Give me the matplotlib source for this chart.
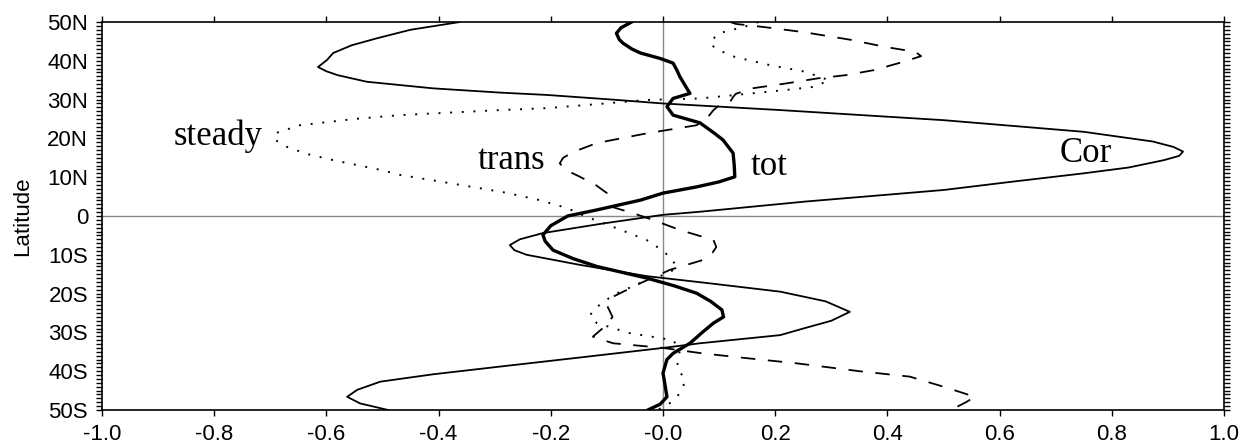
import numpy as np
import matplotlib
matplotlib.use("Agg")
from matplotlib import pyplot as plt
from matplotlib.ticker import MultipleLocator

# latitude (deg, + = N) and values for each curve
cor_lat = [50, 48, 45.8, 44, 42, 40.2, 38.4, 37.3, 36.3, 34.6, 32.9, 31.8, 31.2, 30, 29, 27.3,
           24.7, 21.7, 19.2, 17.8, 16.6, 15.5, 14.4, 12.5, 11, 8.8, 6.7, 3.7, 1.1, 0.3, -2,
           -4.4, -6, -7.5, -8.8, -10, -12.6, -15.5, -17.3, -19.5, -22, -24.7, -27, -29,
           -30.7, -32.8, -34, -36.5, -38.8, -40.8, -42.7, -44.8, -46.6, -48.3, -50]
cor_val = [-0.362, -0.45, -0.51, -0.555, -0.588, -0.599, -0.615, -0.60, -0.58, -0.528, -0.41,
           -0.29, -0.207, -0.09, 0.0, 0.209, 0.50, 0.75, 0.873, 0.91, 0.927, 0.92, 0.893, 0.83,
           0.75, 0.62, 0.50, 0.252, 0.066, 0.0, -0.11, -0.214, -0.255, -0.273, -0.265, -0.243,
           -0.148, -0.029, 0.08, 0.209, 0.29, 0.333, 0.30, 0.25, 0.209, 0.066, 0.0, -0.15,
           -0.29, -0.41, -0.504, -0.545, -0.563, -0.54, -0.49]

tot_lat = [50, 48.5, 47.1, 45.5, 44.5, 43, 42, 40.6, 39.4, 37.5, 35.9, 33.5, 31.6, 30.3, 28.2,
           26, 24, 21.5, 19.6, 16.2, 13, 10.1, 8.8, 7.5, 5.9, 4.1, 1.5, 0, -2.5, -4.9, -6.5,
           -8.8, -11, -13, -16, -18, -19.9, -22, -24.2, -26, -27.6, -30, -32.8, -35.4, -37,
           -40.5, -43, -46.6, -48.5, -50]
tot_val = [-0.056, -0.075, -0.083, -0.078, -0.071, -0.055, -0.04, -0.005, 0.018, 0.025, 0.030,
           0.04, 0.048, 0.018, 0.007, 0.018, 0.066, 0.09, 0.107, 0.125, 0.127, 0.128, 0.10, 0.06,
           0.0, -0.04, -0.12, -0.17, -0.2, -0.214, -0.21, -0.196, -0.16, -0.118, -0.029, 0.02,
           0.06, 0.085, 0.105, 0.108, 0.09, 0.07, 0.048, 0.018, 0.007, 0.0, 0.003, 0.007,
           -0.005, -0.027]

steady_lat = [50, 48.8, 47, 44.5, 43, 41, 38.9, 37.2, 35, 33.3, 32.5, 31.2, 30.3, 29.9, 28.8,
              27.8, 27.3, 26, 25, 23.4, 21.3, 19.5, 17.8, 16, 14.4, 11.9, 10.6, 7.5, 6, 4.1, 2,
              0, -2.8, -6.2, -8.5, -10.5, -13.1, -14.8, -16.5, -20.4, -24.2, -25.8, -27.6,
              -30.2, -32, -34.5, -36.5, -38.8, -42.3, -44.5, -46.6, -48.5, -50]
steady_val = [0.17, 0.146, 0.097, 0.084, 0.095, 0.128, 0.19, 0.253, 0.296, 0.27, 0.22, 0.13,
              0.066, -0.03, -0.12, -0.207, -0.29, -0.469, -0.55, -0.647, -0.692, -0.69, -0.67,
              -0.635, -0.588, -0.504, -0.469, -0.34, -0.28, -0.22, -0.17, -0.14, -0.089, -0.029,
              -0.005, 0.012, 0.025, 0.01, -0.029, -0.089, -0.125, -0.13, -0.118, -0.059, 0.018,
              0.03, 0.028, 0.025, 0.039, 0.035, 0.025, 0.01, -0.01]

trans_lat = [50, 49.5, 48.7, 47.4, 45.4, 43.6, 42.3, 41.2, 39.8, 37.6, 36.3, 35.5, 34.2, 32.9,
             31.5, 30.7, 29.5, 28.5, 27.3, 25.5, 23.4, 21.3, 18.8, 16.5, 15, 13.6, 12, 10.1, 8,
             5.9, 4, 2.3, 0.7, -1, -3.6, -6.2, -8, -9.5, -11.3, -13.9, -17.3, -20.8, -23, -26,
             -28, -31.1, -32.8, -34, -35.4, -36.5, -38, -40, -41.4, -44, -46.6, -48, -50]
trans_val = [0.12, 0.13, 0.18, 0.25, 0.335, 0.395, 0.45, 0.46, 0.43, 0.376, 0.326, 0.277, 0.221,
             0.159, 0.13, 0.125, 0.12, 0.1, 0.09, 0.08, 0.06, -0.029, -0.118, -0.16, -0.178,
             -0.184, -0.175, -0.148, -0.12, -0.1, -0.095, -0.09, -0.053, -0.018, 0.03, 0.09,
             0.095, 0.088, 0.072, 0.012, -0.04, -0.089, -0.1, -0.09, -0.1, -0.125, -0.089, 0.0,
             0.07, 0.14, 0.24, 0.35, 0.44, 0.50, 0.556, 0.54, 0.513]

lat_ticks = [50, 40, 30, 20, 10, 0, -10, -20, -30, -40, -50]
lat_labels = ["50N", "40N", "30N", "20N", "10N", "0", "10S", "20S", "30S", "40S", "50S"]

fig = plt.figure(figsize=(12.44, 4.43), dpi=100)
ax = fig.add_axes([102/1244, 1-410/443, 1122/1244, 388/443])

ax.axvline(0, color="#888888", lw=1.0, zorder=1)
ax.axhline(0, color="#888888", lw=1.0, zorder=1)

ax.plot(cor_val, cor_lat, color="k", lw=1.3)
ax.plot(tot_val, tot_lat, color="k", lw=2.4)
ax.plot(steady_val, steady_lat, color="k", lw=1.4, linestyle=(0, (1, 5)))
ax.plot(trans_val, trans_lat, color="k", lw=1.3, linestyle=(0, (8, 7)))

serif = dict(family="Liberation Serif", size=25)
ax.text(-0.713, 20.5, "steady", ha="right", va="center", **serif)
ax.text(-0.21, 14.4, "trans", ha="right", va="center", **serif)
ax.text(0.156, 12.7, "tot", ha="left", va="center", **serif)
ax.text(0.80, 16.2, "Cor", ha="right", va="center", **serif)

ax.set_xlim(-1, 1)
ax.set_ylim(-50, 50)
ax.set_xticks(np.arange(-1.0, 1.01, 0.2))
ax.set_xticklabels(["%.1f" % v for v in np.arange(-1.0, 1.01, 0.2)])
ax.set_yticks(lat_ticks)
ax.set_yticklabels(lat_labels)
ax.yaxis.set_minor_locator(MultipleLocator(1))
ax.tick_params(axis="x", which="major", direction="out", length=4, width=1,
               top=True, labelsize=16, pad=6)
ax.tick_params(axis="y", which="both", direction="out", length=4, width=1,
               right=True, labelsize=16, pad=6)
for lab in ax.get_xticklabels() + ax.get_yticklabels():
    lab.set_family("Liberation Sans")
for s in ax.spines.values():
    s.set_linewidth(1.2)

ax.set_ylabel("Latitude", family="Liberation Sans", fontsize=16, labelpad=10)

fig.savefig("out.png", dpi=100)
